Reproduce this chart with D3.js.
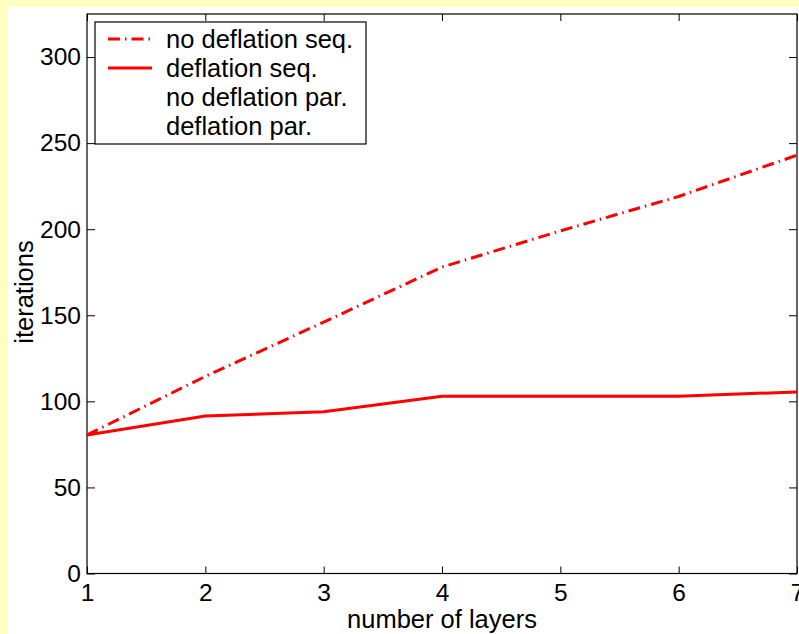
<!DOCTYPE html>
<html lang="en">
<head>
  <meta charset="UTF-8">
  <title>iterations vs number of layers</title>
  <script src="https://d3js.org/d3.v7.min.js"></script>
  <style>
    body {
      margin: 0;
      background-color: #ffffc0;
      font-family: 'Liberation Sans', Arial, Helvetica, sans-serif;
    }
    svg { display: block; }
    .axis text { font-size: 24.5px; fill: #000; }
    .axis line { stroke: #000; }
    .axis path { display: none; }
    .label { font-size: 25.5px; fill: #000; }
    .legend text { font-size: 25.5px; fill: #000; }
  </style>
</head>
<body>
<svg id="chart" width="799" height="634"></svg>
<script>
// data
const layers = [1, 2, 3, 4, 5, 6, 7];
const noDeflationSeq = [80.5, 114.5, 146, 178, 199, 219, 243];
const deflationSeq = [80.5, 91.5, 94, 103, 103, 103, 105.5];
const yTicks = [0, 50, 100, 150, 200, 250, 300];
const legendLabels = ["no deflation seq.", "deflation seq.", "no deflation par.", "deflation par."];

const svg = d3.select("#chart");
const W = 799, H = 634;
const plot = {left: 87, top: 14, right: 797, bottom: 573.5};

// white figure area over the yellow page
svg.append("rect")
  .attr("x", 8).attr("y", 7)
  .attr("width", W - 8).attr("height", H - 7)
  .attr("fill", "#fff");

const x = d3.scaleLinear().domain([1, 7]).range([plot.left, plot.right]);
const y = d3.scaleLinear().domain([0, 325]).range([plot.bottom, plot.top]);

// axes with inward ticks, mirrored on top and right
svg.append("g").attr("class", "axis")
  .attr("transform", `translate(0,${plot.bottom})`)
  .call(d3.axisBottom(x).tickValues(layers).tickFormat(d3.format("d"))
    .tickSizeInner(-7).tickSizeOuter(0).tickPadding(10));

svg.append("g").attr("class", "axis")
  .attr("transform", `translate(0,${plot.top})`)
  .call(d3.axisTop(x).tickValues(layers).tickFormat("")
    .tickSizeInner(-7).tickSizeOuter(0));

svg.append("g").attr("class", "axis")
  .attr("transform", `translate(${plot.left},0)`)
  .call(d3.axisLeft(y).tickValues(yTicks)
    .tickSizeInner(-8).tickSizeOuter(0).tickPadding(6));

svg.append("g").attr("class", "axis")
  .attr("transform", `translate(${plot.right},0)`)
  .call(d3.axisRight(y).tickValues(yTicks).tickFormat("")
    .tickSizeInner(-8).tickSizeOuter(0));

svg.append("rect")
  .attr("x", plot.left).attr("y", plot.top)
  .attr("width", plot.right - plot.left).attr("height", plot.bottom - plot.top)
  .attr("fill", "none").attr("stroke", "#000").attr("stroke-width", 1.2);

// series
const line = d3.line().x((d, i) => x(layers[i])).y(d => y(d));

svg.append("path")
  .datum(noDeflationSeq)
  .attr("fill", "none")
  .attr("stroke", "#ff0000")
  .attr("stroke-width", 3)
  .attr("stroke-dasharray", "12,5,1.5,5")
  .attr("d", line);

svg.append("path")
  .datum(deflationSeq)
  .attr("fill", "none")
  .attr("stroke", "#ff0000")
  .attr("stroke-width", 3)
  .attr("d", line);

// axis labels
svg.append("text").attr("class", "label")
  .attr("x", (plot.left + plot.right) / 2).attr("y", 628)
  .attr("text-anchor", "middle")
  .text("number of layers");

svg.append("text").attr("class", "label")
  .attr("transform", "translate(33,292) rotate(-90)")
  .attr("text-anchor", "middle")
  .text("iterations");

// legend
const legend = svg.append("g").attr("class", "legend");
legend.append("rect")
  .attr("x", 95).attr("y", 22).attr("width", 271).attr("height", 122)
  .attr("fill", "#fff").attr("stroke", "#000").attr("stroke-width", 1.2);

const legendStyles = [
  {color: "#ff0000", dash: "12,5,1.5,5"},
  {color: "#ff0000", dash: null},
  {color: "#ffffff", dash: null},
  {color: "#ffffff", dash: null}
];

legendLabels.forEach((label, i) => {
  const cy = 39 + i * 29;
  legend.append("line")
    .attr("x1", 108).attr("x2", 152).attr("y1", cy).attr("y2", cy)
    .attr("stroke", legendStyles[i].color)
    .attr("stroke-width", 3)
    .attr("stroke-dasharray", legendStyles[i].dash);
  legend.append("text")
    .attr("x", 166).attr("y", cy).attr("dy", "0.35em")
    .text(label);
});
</script>
</body>
</html>
